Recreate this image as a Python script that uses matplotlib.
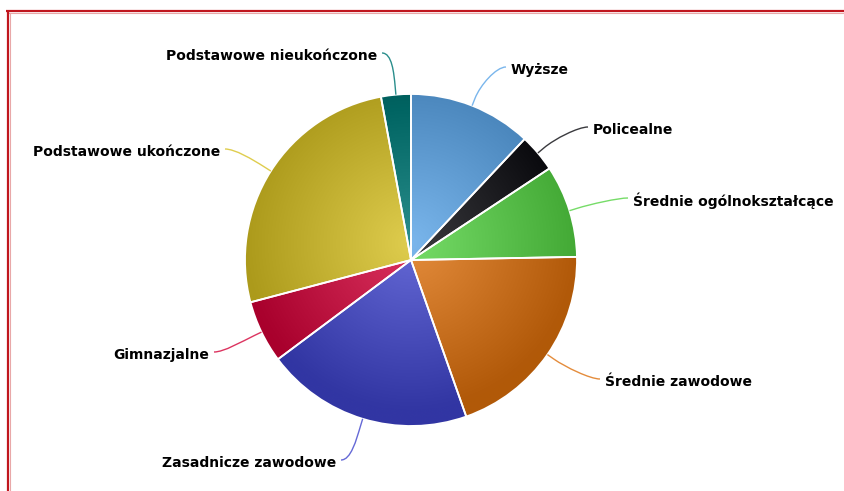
import numpy as np
import matplotlib
matplotlib.use("Agg")
import matplotlib.pyplot as plt
from matplotlib.path import Path
from matplotlib.patches import PathPatch
from matplotlib.colors import to_rgb

# education level shares (percent), clockwise from the top
categories = [
    "Wyższe",
    "Policealne",
    "Średnie ogólnokształcące",
    "Średnie zawodowe",
    "Zasadnicze zawodowe",
    "Gimnazjalne",
    "Podstawowe ukończone",
    "Podstawowe nieukończone",
]
shares = [12.0, 3.7, 9.0, 19.9, 20.2, 6.1, 26.2, 2.9]
colors = ["#7ab6ec", "#3a3a3e", "#76dc68", "#e48c3c",
          "#6569d6", "#dc3460", "#dfcd4e", "#2a8e8c"]

# label placement in pixels (x, y from top-left), and which side the label sits on
label_pos = [(511, 70, "left"), (593, 130, "left"), (633, 201, "left"),
             (605, 382, "left"), (336, 463, "right"), (209, 355, "right"),
             (220, 152, "right"), (377, 56, "right")]

W, H = 845, 491
cx, cy, R = 411, H - 260, 166

fig = plt.figure(figsize=(W / 100, H / 100), dpi=100)
ax = fig.add_axes([0, 0, 1, 1])

wedges, _ = ax.pie(shares, colors=colors, startangle=90, counterclock=False,
                   center=(cx, cy), radius=R,
                   wedgeprops=dict(edgecolor="white", linewidth=1.3))
ax.set_aspect("auto")
ax.axis("off")

# radial gradient fill: bright near centre, darker towards the rim
n = 400
xs = np.linspace(cx - R, cx + R, n)
ys = np.linspace(cy - R, cy + R, n)
xx, yy = np.meshgrid(xs, ys)
t = np.clip(np.hypot(xx - cx, yy - (cy + 0.1 * R)) / R, 0, 1)
for w, c in zip(wedges, colors):
    base = np.array(to_rgb(c))
    img = np.clip(base[None, None, :] - 0.2 * t[..., None], 0, 1)
    im = ax.imshow(img, extent=[cx - R, cx + R, cy - R, cy + R],
                   origin="lower", zorder=1, interpolation="bilinear")
    im.set_clip_path(w)
    w.set_facecolor("none")
    w.set_zorder(2)
ax.set_xlim(0, W)
ax.set_ylim(0, H)

# labels with curved connectors
cum = np.cumsum([0] + shares[:-1])
total = sum(shares)
for name, s, c0, c, (lx, ly, side) in zip(categories, shares, cum, colors, label_pos):
    mid = np.deg2rad(90 - (c0 + s / 2) / total * 360)
    d = np.array([np.cos(mid), np.sin(mid)])
    p0 = np.array([cx, cy]) + d * R
    p1 = np.array([cx, cy]) + d * (R + 8)
    sgn = 1 if side == "left" else -1
    yend = H - ly + 3
    xend = lx - 5 * sgn
    verts = [p0, p1, p1 + d * 14, (xend - 10 * sgn, yend), (xend, yend)]
    codes = [Path.MOVETO, Path.LINETO, Path.CURVE4, Path.CURVE4, Path.CURVE4]
    ax.add_patch(PathPatch(Path(verts, codes), facecolor="none",
                           edgecolor=c, lw=1.0, zorder=3))
    ax.text(lx, H - ly, name, ha=side, va="center", fontsize=10,
            fontweight="bold", color="#000000", zorder=4)

# red frame around the chart
ax.plot([6, W], [H - 11, H - 11], color="#c0161e", lw=1.6, solid_capstyle="butt", zorder=5)
ax.plot([8.5, W], [H - 13, H - 13], color="#e9a8a8", lw=0.8, zorder=5)
ax.plot([8, 8], [0, H - 11], color="#c0161e", lw=1.6, solid_capstyle="butt", zorder=5)
ax.plot([10, 10], [0, H - 13], color="#e9a8a8", lw=0.8, zorder=5)

fig.savefig("out.png", dpi=100)
